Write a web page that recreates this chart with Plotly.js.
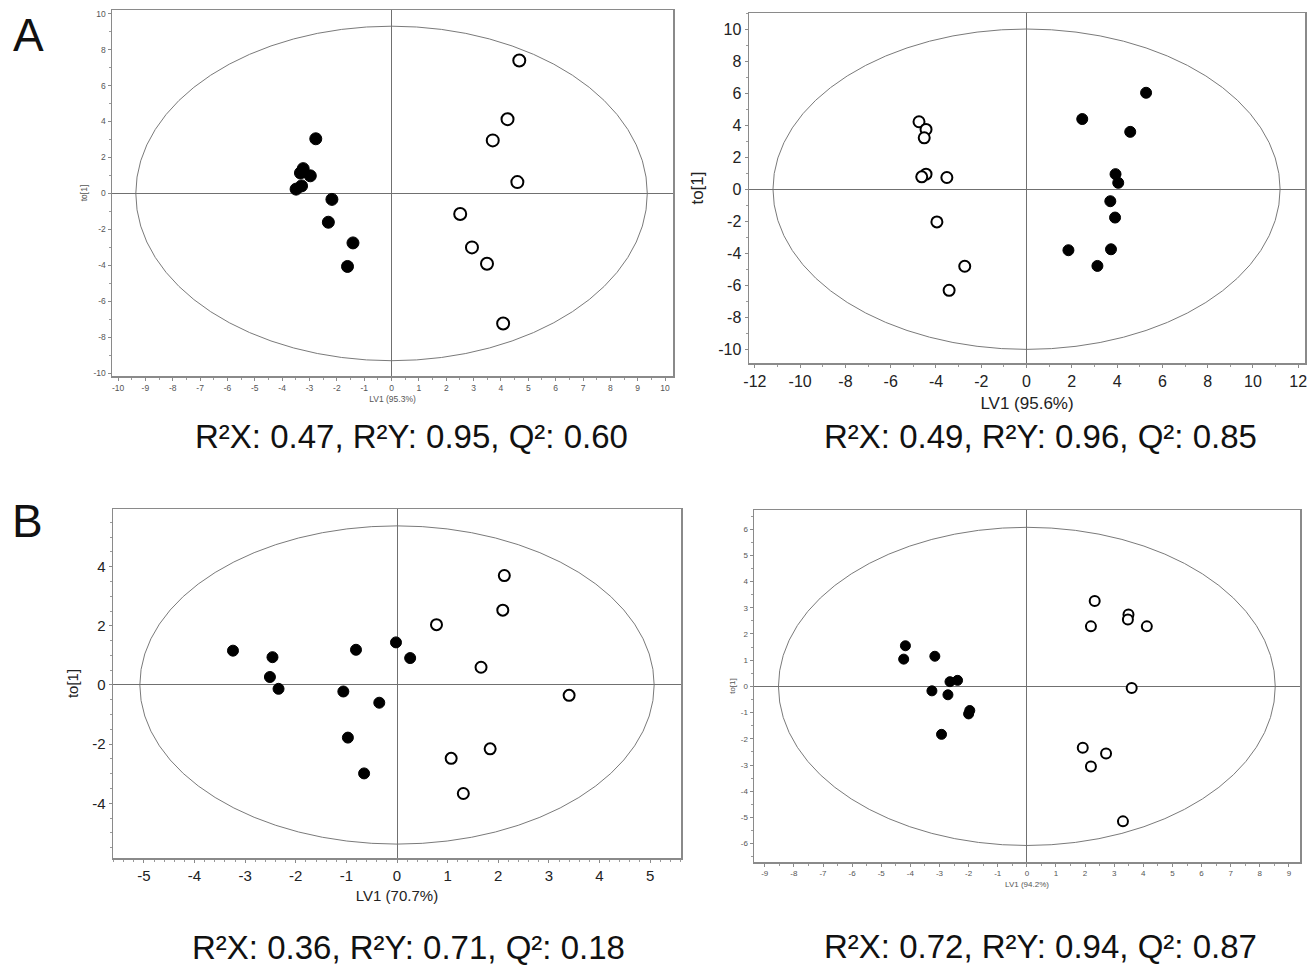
<!DOCTYPE html>
<html>
<head>
<meta charset="utf-8">
<script src="https://cdn.plot.ly/plotly-3.0.1.min.js"></script>
<style>html,body{margin:0;padding:0;background:#fff;}#chart{width:1315px;height:967px;}</style>
</head>
<body>
<div id="chart"></div>
<script>
// ---- Data ----
// Panel A (left)
const aLeftFilledX = [-2.77, -3.23, -3.33, -2.97, -3.49, -3.29, -2.18, -2.31, -1.41, -1.61];
const aLeftFilledY = [3.04, 1.38, 1.14, 0.98, 0.24, 0.42, -0.33, -1.60, -2.75, -4.06];
const aLeftOpenX = [4.67, 4.24, 3.70, 4.60, 2.51, 2.94, 3.49, 4.08];
const aLeftOpenY = [7.39, 4.13, 2.95, 0.63, -1.14, -3.00, -3.91, -7.23];
// Panel A (right)
const aRightFilledX = [5.28, 2.46, 4.58, 3.93, 4.05, 3.70, 3.91, 1.85, 3.73, 3.13];
const aRightFilledY = [6.02, 4.38, 3.58, 0.94, 0.40, -0.75, -1.77, -3.81, -3.75, -4.79];
const aRightOpenX = [-4.75, -4.44, -4.52, -4.44, -4.63, -3.52, -3.96, -2.73, -3.42];
const aRightOpenY = [4.21, 3.73, 3.21, 0.94, 0.77, 0.73, -2.04, -4.81, -6.31];
// Panel B (left)
const bLeftFilledX = [-3.24, -2.46, -2.51, -2.34, -0.81, -0.02, 0.26, -1.06, -0.35, -0.97, -0.65];
const bLeftFilledY = [1.16, 0.94, 0.27, -0.13, 1.19, 1.44, 0.91, -0.22, -0.60, -1.78, -2.99];
const bLeftOpenX = [2.12, 2.09, 0.78, 1.66, 3.40, 1.84, 1.07, 1.31];
const bLeftOpenY = [3.70, 2.53, 2.04, 0.60, -0.35, -2.16, -2.48, -3.67];
// Panel B (right)
const bRightFilledX = [-4.17, -4.23, -3.16, -2.64, -2.38, -3.26, -2.71, -1.96, -2.00, -2.93];
const bRightFilledY = [1.55, 1.04, 1.15, 0.18, 0.23, -0.17, -0.32, -0.92, -1.05, -1.83];
const bRightOpenX = [2.33, 2.20, 3.49, 3.47, 4.12, 3.60, 1.92, 2.72, 2.20, 3.30];
const bRightOpenY = [3.26, 2.29, 2.74, 2.55, 2.29, -0.06, -2.34, -2.56, -3.06, -5.15];
// Hotelling T2 ellipse semi-axes [a, b] per panel
const ellipseAxes = [[9.35, 9.3], [11.2, 10.0], [5.08, 5.38], [8.53, 6.07]];
// Tick values per panel (labels drawn with a plain hyphen minus, as in the figure)
const aLeftXTicks = [-10, -9, -8, -7, -6, -5, -4, -3, -2, -1, 0, 1, 2, 3, 4, 5, 6, 7, 8, 9, 10];
const aLeftYTicks = [-10, -8, -6, -4, -2, 0, 2, 4, 6, 8, 10];
const aRightXTicks = [-12, -10, -8, -6, -4, -2, 0, 2, 4, 6, 8, 10, 12];
const aRightYTicks = [-10, -8, -6, -4, -2, 0, 2, 4, 6, 8, 10];
const bLeftXTicks = [-5, -4, -3, -2, -1, 0, 1, 2, 3, 4, 5];
const bLeftYTicks = [-4, -2, 0, 2, 4];
const bRightXTicks = [-9, -8, -7, -6, -5, -4, -3, -2, -1, 0, 1, 2, 3, 4, 5, 6, 7, 8, 9];
const bRightYTicks = [-6, -5, -4, -3, -2, -1, 0, 1, 2, 3, 4, 5, 6];
// Axis titles
const xTitles = ["LV1 (95.3%)", "LV1 (95.6%)", "LV1 (70.7%)", "LV1 (94.2%)"];
const yTitle = "to[1]";
// Model statistics [R2X, R2Y, Q2]
const statsR2X = ["0.47", "0.49", "0.36", "0.72"];
const statsR2Y = ["0.95", "0.96", "0.71", "0.94"];
const statsQ2 = ["0.60", "0.85", "0.18", "0.87"];
const panelLetters = ["A", "B"];

// ---- Layout helpers ----
const W = 1315, H = 967;
const FONT = "Arial, 'Liberation Sans', sans-serif";
const frames = [ // [left, right, top, bottom] in px
  [112, 673, 10, 376],
  [749, 1305, 13, 363],
  [113, 681, 509, 858],
  [754, 1300, 510, 862]
];
const xRanges = [[-10.22, 10.29], [-12.26, 12.3], [-5.61, 5.61], [-9.37, 9.38]];
const yRanges = [[-10.15, 10.2], [-10.85, 11.0], [-5.85, 5.95], [-6.7, 6.73]];
const xTickSets = [aLeftXTicks, aRightXTicks, bLeftXTicks, bRightXTicks];
const yTickSets = [aLeftYTicks, aRightYTicks, bLeftYTicks, bRightYTicks];
const xMinor = [0.5, 1, 0.2, 0.5];
const yMinor = [1, 1, 0.5, 0.5];
const tickSizes = [8.5, 16, 15, 8];
const titleSizes = [8.5, 17, 15, 8];
const markerSizes = [12, 11, 11, 10];

const panels = [
  [aLeftFilledX, aLeftFilledY, aLeftOpenX, aLeftOpenY],
  [aRightFilledX, aRightFilledY, aRightOpenX, aRightOpenY],
  [bLeftFilledX, bLeftFilledY, bLeftOpenX, bLeftOpenY],
  [bRightFilledX, bRightFilledY, bRightOpenX, bRightOpenY]
];

const traces = [];
const layout = {
  width: W, height: H,
  margin: {l: 0, r: 0, t: 0, b: 0},
  paper_bgcolor: "#fff", plot_bgcolor: "#fff",
  showlegend: false,
  font: {family: FONT, color: "#222"},
  shapes: [], annotations: []
};

panels.forEach((p, i) => {
  const n = i + 1;
  const xa = n === 1 ? "x" : "x" + n;
  const ya = n === 1 ? "y" : "y" + n;
  const xk = n === 1 ? "xaxis" : "xaxis" + n;
  const yk = n === 1 ? "yaxis" : "yaxis" + n;
  const f = frames[i];
  const small = (i === 0 || i === 3);
  const txtColor = small ? "#555" : "#222";
  traces.push({
    type: "scatter", mode: "markers", x: p[0], y: p[1], xaxis: xa, yaxis: ya,
    marker: {size: markerSizes[i], color: "#000", line: {color: "#000", width: 1}}
  });
  traces.push({
    type: "scatter", mode: "markers", x: p[2], y: p[3], xaxis: xa, yaxis: ya,
    marker: {size: markerSizes[i], color: "#fff", line: {color: "#000", width: 2}}
  });
  const common = {
    showline: true, mirror: true, linecolor: "#8a8a8a", linewidth: 1.5,
    showgrid: false, zeroline: true, zerolinecolor: "#707070", zerolinewidth: 1,
    ticks: "outside", ticklen: 3, tickcolor: "#8a8a8a",
    tickfont: {family: FONT, size: tickSizes[i], color: txtColor},
    tickmode: "array",
    fixedrange: true
  };
  layout[xk] = Object.assign({}, common, {
    domain: [f[0] / W, f[1] / W], anchor: ya,
    range: xRanges[i],
    tickvals: xTickSets[i], ticktext: xTickSets[i].map(String),
    minor: {tickmode: "linear", tick0: 0, dtick: xMinor[i], ticks: "outside", ticklen: 2, tickcolor: "#9a9a9a"},
    title: {text: xTitles[i], font: {family: FONT, size: titleSizes[i], color: txtColor},
            standoff: small ? 4 : 8}
  });
  layout[yk] = Object.assign({}, common, {
    domain: [1 - f[3] / H, 1 - f[2] / H], anchor: xa,
    range: yRanges[i],
    tickvals: yTickSets[i], ticktext: yTickSets[i].map(String),
    minor: {tickmode: "linear", tick0: 0, dtick: yMinor[i], ticks: "outside", ticklen: 2, tickcolor: "#9a9a9a"},
    title: {text: yTitle, font: {family: FONT, size: titleSizes[i], color: txtColor},
            standoff: small ? 4 : 10}
  });
  const e = ellipseAxes[i];
  layout.shapes.push({
    type: "circle", xref: xa, yref: ya, x0: -e[0], x1: e[0], y0: -e[1], y1: e[1],
    line: {color: "#7a7a7a", width: 1}, layer: "below"
  });
  // statistics text centred under each panel
  const cx = [411, 1040, 408, 1040][i];
  const cy = [437, 437, 947, 946][i];
  layout.annotations.push({
    xref: "paper", yref: "paper", x: cx / W, y: 1 - cy / H,
    xanchor: "center", yanchor: "middle", showarrow: false,
    text: "R²X: " + statsR2X[i] + ", R²Y: " + statsR2Y[i] + ", Q²: " + statsQ2[i],
    font: {family: FONT, size: 33, color: "#111"}
  });
});

// Panel letters
layout.annotations.push({xref: "paper", yref: "paper", x: 28 / W, y: 1 - 35 / H, xanchor: "center", yanchor: "middle",
  showarrow: false, text: panelLetters[0], font: {family: FONT, size: 46, color: "#111"}});
layout.annotations.push({xref: "paper", yref: "paper", x: 27 / W, y: 1 - 521 / H, xanchor: "center", yanchor: "middle",
  showarrow: false, text: panelLetters[1], font: {family: FONT, size: 46, color: "#111"}});

Plotly.newPlot("chart", traces, layout, {displayModeBar: false, staticPlot: true});
</script>
</body>
</html>
